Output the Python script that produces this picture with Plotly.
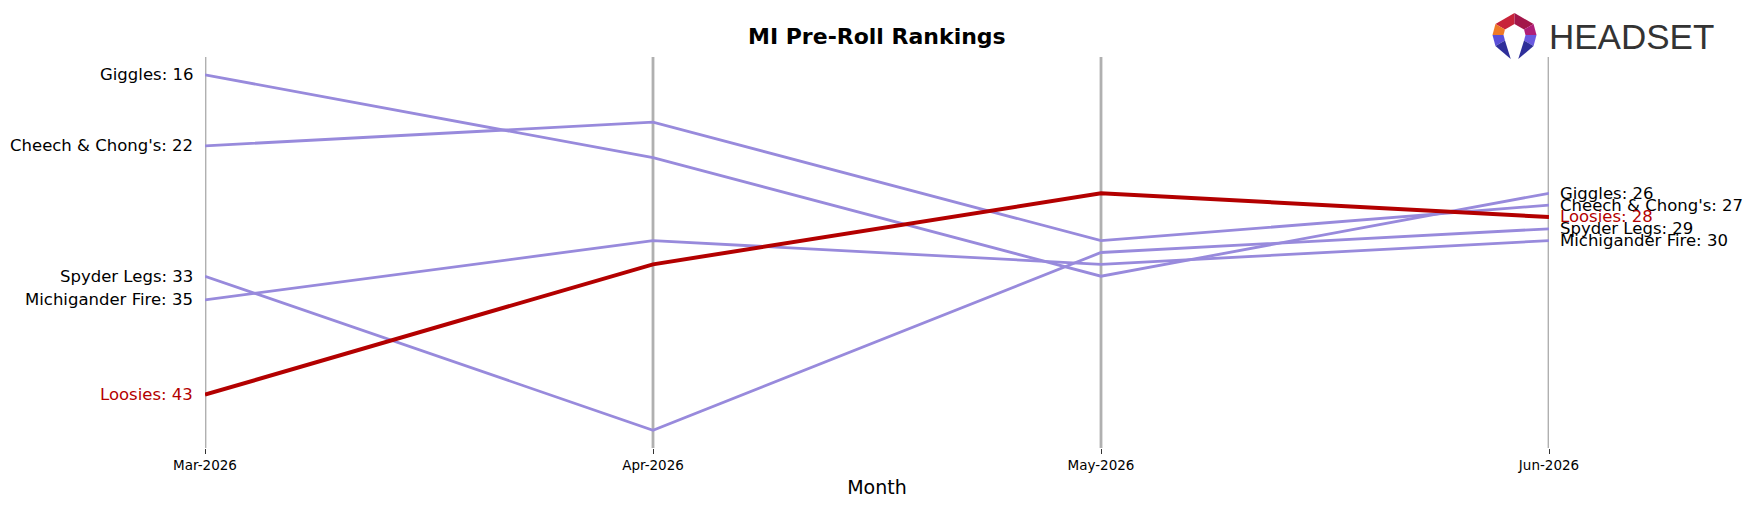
import plotly.graph_objects as go
import math

months = ["Mar-2026", "Apr-2026", "May-2026", "Jun-2026"]
brands = ["Giggles", "Cheech & Chong's", "Spyder Legs", "Michigander Fire", "Loosies"]
giggles = [16, 23, 33, 26]
cheech_chong = [22, 20, 30, 27]
spyder_legs = [33, 46, 31, 29]
michigander_fire = [35, 30, 32, 30]
loosies = [43, 32, 26, 28]
series = [giggles, cheech_chong, spyder_legs, michigander_fire, loosies]
highlight = "Loosies"

W, H = 1753, 507
L, R, T, B = 205, 204, 57, 59
PW, PH = W - L - R, H - T - B

PURPLE = "rgb(152,138,220)"
RED = "#b30000"
FONT = "DejaVu Sans"


def px(x):
    return (x - L) / PW


def py(y):
    return (H - B - y) / PH


fig = go.Figure()

order = [i for i, b in enumerate(brands) if b != highlight] + [brands.index(highlight)]
for i in order:
    b = brands[i]
    hl = b == highlight
    fig.add_trace(go.Scatter(
        x=months, y=series[i], mode="lines", name=b,
        line=dict(color=RED if hl else PURPLE, width=4 if hl else 2.8),
        hoverinfo="x+y+name", showlegend=False,
    ))

annotations = []
for b, vals in zip(brands, series):
    col = RED if b == highlight else "black"
    annotations.append(dict(x=months[0], y=vals[0], xref="x", yref="y",
                            text=f"{b}: {vals[0]}", showarrow=False,
                            xanchor="right", yanchor="middle", xshift=-10,
                            font=dict(family=FONT, size=16.5, color=col)))
    annotations.append(dict(x=months[-1], y=vals[-1], xref="x", yref="y",
                            text=f"{b}: {vals[-1]}", showarrow=False,
                            xanchor="left", yanchor="middle", xshift=9,
                            font=dict(family=FONT, size=16.5, color=col)))

annotations.append(dict(x=0.5, y=py(36), xref="paper", yref="paper",
                        text="<b>MI Pre-Roll Rankings</b>", showarrow=False,
                        xanchor="center", yanchor="middle",
                        font=dict(family=FONT, size=22, color="black")))
annotations.append(dict(x=px(1547), y=py(36), xref="paper", yref="paper",
                        text="HEADSET", showarrow=False,
                        xanchor="left", yanchor="middle",
                        font=dict(family="Liberation Sans", size=35, color="#333333")))

shapes = []
for i, m in enumerate(months):
    shapes.append(dict(type="line", xref="x", yref="paper", x0=i, x1=i, y0=0, y1=1,
                       line=dict(color="#b0b0b0", width=2.8), layer="below"))

# Headset logo (hexagonal ring)
cx, cy = 1514.5, 35
ro, ri = 22, 11


def pt(r, ang):
    a = math.radians(ang)
    return (cx + r * math.cos(a), cy - r * math.sin(a))


def poly(points, color):
    d = "M " + " L ".join(f"{px(x):.5f},{py(y):.5f}" for x, y in points) + " Z"
    return dict(type="path", xref="paper", yref="paper", path=d,
                fillcolor=color, line=dict(width=0), layer="above")


segs = [
    (150, 90, "#c8243a"),
    (90, 30, "#a3164a"),
    (30, 0, "#b01e78"),
    (180, 150, "#ef7a26"),
    (0, -30, "#6a5ae0"),
    (210, 180, "#5a4fd8"),
]
for a0, a1, c in segs:
    shapes.append(poly([pt(ro, a0), pt(ro, a1), pt(ri, a1), pt(ri, a0)], c))
shapes.append(poly([pt(ro, 210), pt(ri, 210), (pt(ri, 250)[0], cy + 24)], "#2f2f9a"))
shapes.append(poly([pt(ro, -30), pt(ri, -30), (pt(ri, -70)[0], cy + 24)], "#2f2f9a"))

fig.update_layout(
    width=W, height=H,
    margin=dict(l=L, r=R, t=T, b=B),
    paper_bgcolor="white", plot_bgcolor="white",
    xaxis=dict(type="category", range=[0, 3], showgrid=False, zeroline=False,
               showline=False, ticks="outside", ticklen=5, tickwidth=1,
               tickcolor="#333333",
               tickfont=dict(family=FONT, size=13.5, color="black"),
               title=dict(text="Month", font=dict(family=FONT, size=19, color="black"),
                          standoff=8)),
    yaxis=dict(range=[47.5, 14.5], visible=False),
    annotations=annotations,
    shapes=shapes,
)

fig.write_html("out.html")
